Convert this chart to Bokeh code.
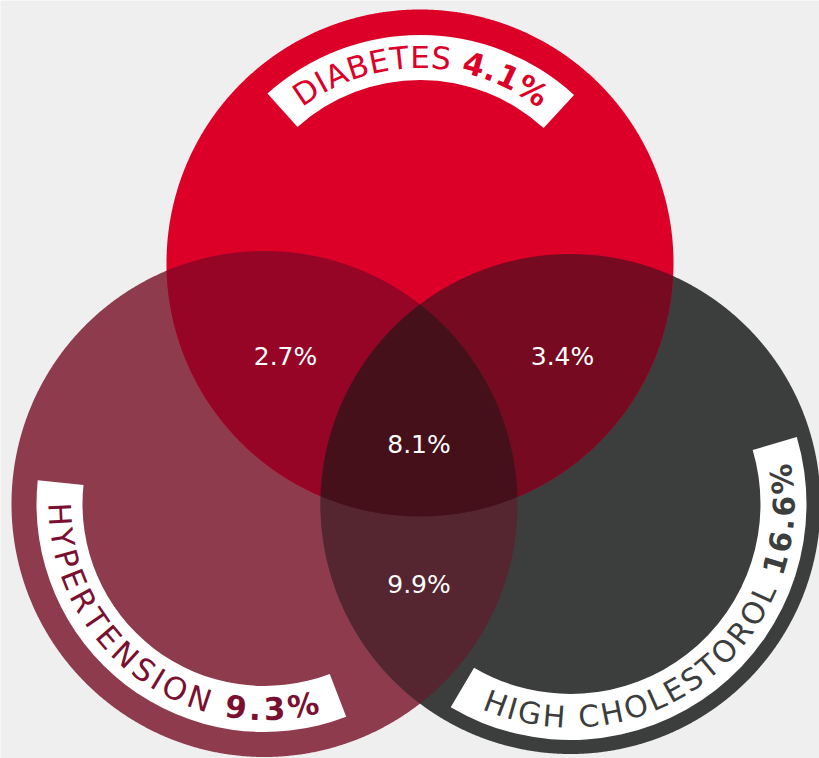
import numpy as np
from bokeh.plotting import figure
from bokeh.models import Range1d, ColumnDataSource
from bokeh.core.properties import value
from bokeh.embed import file_html
from bokeh.resources import INLINE

# ---- data -------------------------------------------------------------
conditions = ["DIABETES", "HYPERTENSION", "HIGH CHOLESTOROL"]
condition_pct = [4.1, 9.3, 16.6]
overlap_names = ["Diabetes + Hypertension", "Diabetes + High cholesterol",
                 "All three", "Hypertension + High cholesterol"]
overlap_pct = [2.7, 3.4, 8.1, 9.9]

# ---- layout / style ---------------------------------------------------
W, H = 819, 758
BG = "#efefef"

# circle centres (x, y measured downward from top) and radii
circ_x = [419.5, 264.0, 570.0]
circ_y_top = [262.5, 503.5, 503.5]
circ_r = [253.5, 253.0, 250.0]
circ_y = [H - v for v in circ_y_top]
circ_color = ["#dc0029", "#8e3b4e", "#3c3e3d"]

# overlap fills: D&H, D&C, H&C, all three
pair_idx = [(0, 1), (0, 2), (1, 2)]
pair_color = ["#960525", "#760a21", "#552630"]
triple_color = ["#46101b"]

# overlap label anchors (x, centre y from top) -> D&H, D&C, all, H&C
ov_x = [285, 562, 418.5, 418.5]
ov_y_top = [356, 356, 444, 584]

# white label bands: inner r, outer r, start deg, end deg (anticlockwise)
band = [
    (183, 228, 47.5, 132.0),
    (182, 228, 174.0, 291.0),
    (190, 236, 239.5, 16.5),
]
# text on arcs: centre r, start deg, end deg, direction, font px, colour
arc_text = [
    (206, 127.0, 52.6, -1, 31, "#dc0029"),
    (205, 179.6, 285.2, 1, 31, "#7a1030"),
    (213, 246.4, 370.8, 1, 30, "#3c3e3d"),
]

FONT = "DejaVu Sans"

# approximate advance widths (em) for the label characters
W_REG = {'A': .684, 'B': .686, 'C': .698, 'D': .770, 'E': .632, 'G': .775,
         'H': .752, 'I': .295, 'L': .557, 'N': .748, 'O': .787, 'P': .603,
         'R': .695, 'S': .635, 'T': .611, 'Y': .611, ' ': .318, '.': .318,
         '%': .950}
W_BOLD = {'.': .380, '%': 1.002}


def char_w(ch, bold):
    if ch.isdigit():
        return .696 if bold else .636
    if bold:
        return W_BOLD.get(ch, W_REG.get(ch, .65))
    return W_REG.get(ch, .65)


def ring(cx, cy, r, n=1440):
    t = np.linspace(0, 2 * np.pi, n, endpoint=False)
    return cx + r * np.cos(t), cy + r * np.sin(t)


def common_area(ids):
    """Polygon of the area shared by the given circles."""
    xs, ys = [], []
    for i in ids:
        px, py = ring(circ_x[i], circ_y[i], circ_r[i])
        m = np.ones_like(px, dtype=bool)
        for j in ids:
            if j != i:
                m &= (px - circ_x[j]) ** 2 + (py - circ_y[j]) ** 2 <= circ_r[j] ** 2 + 1e-6
        xs.append(px[m])
        ys.append(py[m])
    xs = np.concatenate(xs)
    ys = np.concatenate(ys)
    order = np.argsort(np.arctan2(ys - ys.mean(), xs - xs.mean()))
    return list(xs[order]), list(ys[order])


p = figure(width=W, height=H, output_backend="svg", toolbar_location=None,
           x_range=Range1d(0, W), y_range=Range1d(0, H),
           min_border=0, background_fill_color=BG, border_fill_color=BG)
p.axis.visible = False
p.grid.visible = False
p.outline_line_color = None

# full circles (diabetes on top)
full_xs, full_ys = [], []
for i in (1, 2, 0):
    x, y = ring(circ_x[i], circ_y[i], circ_r[i])
    full_xs.append(list(x))
    full_ys.append(list(y))
p.patches(xs=full_xs, ys=full_ys, fill_color=[circ_color[i] for i in (1, 2, 0)],
          line_color=None)

# pairwise overlaps
lx, ly = [], []
for a, b in pair_idx:
    x, y = common_area([a, b])
    lx.append(x)
    ly.append(y)
p.patches(xs=lx, ys=ly, fill_color=pair_color, line_color=None)

# triple overlap
tx, ty = common_area([0, 1, 2])
p.patches(xs=[tx], ys=[ty], fill_color=triple_color, line_color=None)

# label bands
for i, (ri, ro, a0, a1) in enumerate(band):
    p.annular_wedge(x=circ_x[i], y=circ_y[i], inner_radius=ri, outer_radius=ro,
                    start_angle=np.radians(a0), end_angle=np.radians(a1),
                    direction="anticlock", fill_color="white", line_color=None)

# curved condition labels
for i, (rb, a0, a1, d, fs, col) in enumerate(arc_text):
    chars = [(c, False) for c in conditions[i] + " "] + \
            [(c, True) for c in f"{condition_pct[i]:.1f}%"]
    widths = [char_w(c, b) * fs for c, b in chars]
    arc_len = rb * abs(np.radians(a1 - a0))
    gap = (arc_len - sum(widths)) / (len(chars) - 1)
    s = 0.0
    cols = {False: dict(x=[], y=[], t=[], a=[]), True: dict(x=[], y=[], t=[], a=[])}
    for (c, b), w in zip(chars, widths):
        mid = s + w / 2
        th = np.radians(a0) + d * mid / rb
        s += w + gap
        if c == " ":
            continue
        cols[b]["x"].append(circ_x[i] + rb * np.cos(th))
        cols[b]["y"].append(circ_y[i] + rb * np.sin(th))
        cols[b]["t"].append(c)
        cols[b]["a"].append(th - np.pi / 2 if d < 0 else th + np.pi / 2)
    for b in (False, True):
        p.text(x="x", y="y", text="t", angle="a", source=ColumnDataSource(cols[b]),
               text_font=value(FONT), text_font_size=value(f"{fs}px"),
               text_font_style="bold" if b else "normal",
               text_align="center", text_baseline="middle", text_color=col)

# overlap values
p.text(x=ov_x, y=[H - v for v in ov_y_top], text=[f"{v:.1f}%" for v in overlap_pct],
       text_font=value(FONT), text_font_size=value("25px"), text_color="white",
       text_align="center", text_baseline="middle")

open("out.html", "w").write(file_html(p, INLINE))
